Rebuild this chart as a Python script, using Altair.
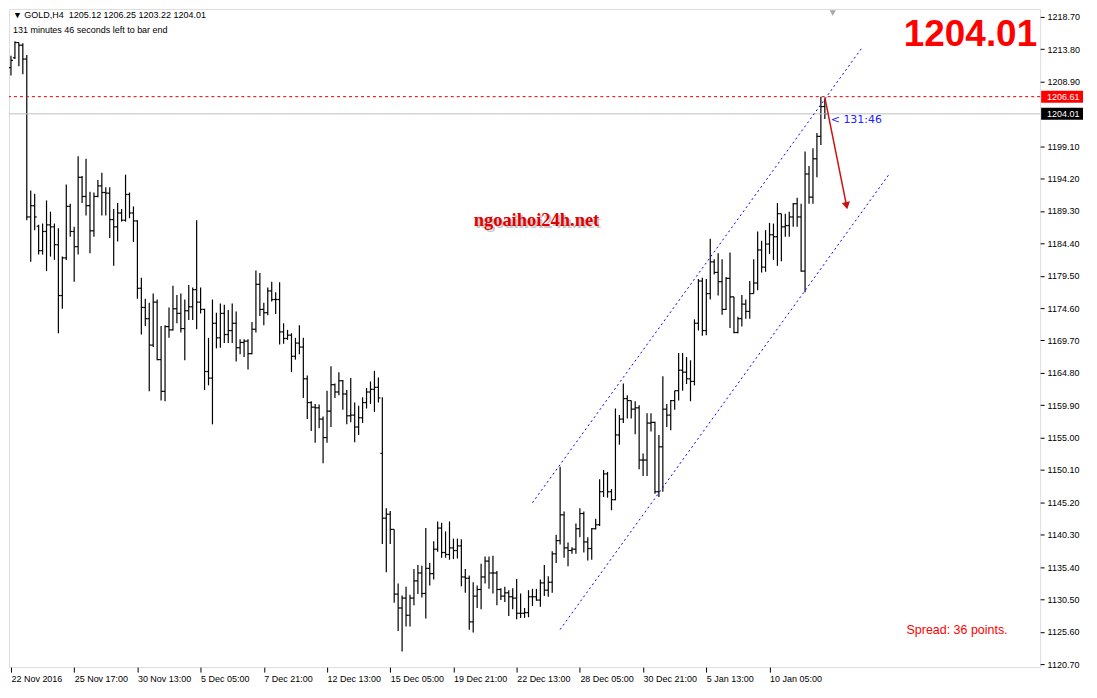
import json
import altair as alt
import pandas as pd

# ---------------- data ----------------
OPEN = [1211.0, 1212.5, 1214.8, 1214.4, 1212.3, 1188.4, 1190.1, 1187.0, 1183.3, 1186.2,
        1187.2, 1186.9, 1184.2, 1176.5, 1182.2, 1190.0, 1186.2, 1183.9, 1194.4, 1191.5,
        1190.1, 1186.3, 1191.5, 1193.1, 1192.1, 1192.0, 1188.0, 1186.9, 1189.0, 1187.9,
        1191.8, 1189.0, 1187.8, 1177.6, 1174.7, 1173.0, 1169.0, 1175.5, 1166.8, 1162.0,
        1171.8, 1171.3, 1174.5, 1173.8, 1171.5, 1174.2, 1174.8, 1177.4, 1175.5, 1174.4,
        1165.0, 1164.0, 1172.3, 1170.1, 1173.8, 1170.6, 1171.2, 1172.3, 1168.6, 1169.4,
        1169.6, 1167.7, 1171.4, 1178.2, 1174.4, 1173.9, 1177.2, 1175.9, 1175.9, 1171.0,
        1170.0, 1170.5, 1167.3, 1169.3, 1168.7, 1163.9, 1160.3, 1159.6, 1159.5, 1157.8,
        1155.0, 1159.0, 1163.0, 1161.9, 1163.6, 1161.6, 1158.3, 1158.4, 1156.6, 1158.0,
        1160.3, 1161.9, 1162.3, 1162.6, 1152.6, 1142.8, 1143.4, 1141.1, 1131.3, 1129.2,
        1130.7, 1128.1, 1130.7, 1133.3, 1134.5, 1131.4, 1135.2, 1134.4, 1138.1, 1141.3,
        1137.6, 1137.3, 1138.3, 1137.9, 1138.6, 1133.9, 1133.7, 1127.1, 1131.0, 1132.0,
        1133.9, 1136.3, 1134.5, 1134.5, 1132.0, 1131.0, 1131.5, 1130.9, 1130.7, 1128.4,
        1128.4, 1128.5, 1130.9, 1130.9, 1130.4, 1133.0, 1131.9, 1133.1, 1137.4, 1139.4,
        1143.3, 1138.3, 1137.9, 1138.1, 1141.2, 1143.5, 1139.2, 1138.2, 1141.2, 1141.8,
        1146.8, 1149.5, 1146.8, 1145.6, 1155.4, 1157.8, 1160.9, 1160.6, 1159.3, 1159.5,
        1151.6, 1151.6, 1157.2, 1157.3, 1146.8, 1153.6, 1159.3, 1158.4, 1160.6, 1162.1,
        1165.2, 1164.9, 1163.9, 1163.5, 1172.3, 1178.7, 1171.2, 1176.8, 1181.6, 1180.0,
        1178.6, 1174.4, 1179.1, 1176.3, 1170.9, 1173.0, 1175.2, 1174.1, 1176.8, 1178.4,
        1183.4, 1180.8, 1184.3, 1185.7, 1185.4, 1188.9, 1186.9, 1187.1, 1188.4, 1190.4,
        1188.4, 1180.2, 1194.9, 1191.4, 1197.2, 1200.6, 1205.12]
HIGH = [1212.8, 1215.0, 1214.8, 1214.7, 1212.9, 1192.4, 1191.9, 1187.2, 1187.4, 1190.9,
        1189.2, 1187.4, 1186.7, 1182.4, 1193.3, 1190.4, 1186.9, 1197.6, 1194.6, 1197.2,
        1192.2, 1192.1, 1194.0, 1195.1, 1192.9, 1192.9, 1189.6, 1190.5, 1189.6, 1194.8,
        1192.1, 1190.0, 1187.9, 1179.2, 1176.0, 1175.4, 1176.8, 1175.9, 1171.9, 1172.0,
        1174.7, 1178.0, 1176.6, 1176.8, 1175.9, 1178.1, 1177.7, 1187.9, 1177.7, 1174.5,
        1170.1, 1175.9, 1173.9, 1175.3, 1175.1, 1174.3, 1175.3, 1174.1, 1169.9, 1169.9,
        1169.9, 1172.5, 1180.3, 1179.9, 1175.4, 1177.7, 1178.6, 1177.0, 1178.5, 1172.3,
        1171.3, 1170.8, 1170.1, 1172.0, 1170.1, 1164.4, 1160.5, 1160.1, 1160.0, 1158.2,
        1162.1, 1165.8, 1163.2, 1164.9, 1163.7, 1162.2, 1164.0, 1160.3, 1159.8, 1161.1,
        1162.5, 1163.5, 1165.1, 1164.1, 1161.1, 1144.3, 1143.9, 1141.1, 1132.9, 1131.1,
        1132.4, 1131.2, 1135.1, 1135.7, 1135.6, 1141.3, 1136.0, 1139.3, 1142.3, 1142.1,
        1140.8, 1142.3, 1139.7, 1139.7, 1139.6, 1135.1, 1134.1, 1133.1, 1132.6, 1135.9,
        1137.0, 1137.0, 1137.1, 1134.8, 1132.2, 1132.4, 1131.9, 1132.2, 1133.6, 1131.4,
        1129.2, 1131.9, 1132.1, 1132.1, 1133.5, 1135.7, 1134.0, 1137.8, 1140.3, 1150.6,
        1143.8, 1139.1, 1138.4, 1142.0, 1144.3, 1143.8, 1139.9, 1141.3, 1142.7, 1148.7,
        1150.1, 1149.8, 1147.2, 1159.4, 1158.4, 1163.2, 1161.4, 1160.6, 1160.5, 1159.9,
        1152.6, 1158.7, 1158.7, 1157.4, 1155.4, 1164.3, 1160.1, 1160.7, 1162.1, 1167.8,
        1167.8, 1167.2, 1166.7, 1172.9, 1179.0, 1179.2, 1179.0, 1185.1, 1182.0, 1182.9,
        1182.0, 1179.3, 1183.0, 1176.3, 1173.3, 1176.6, 1175.9, 1178.7, 1182.0, 1186.2,
        1184.8, 1186.4, 1187.5, 1187.4, 1190.5, 1188.9, 1188.9, 1189.2, 1190.5, 1191.3,
        1190.4, 1198.3, 1196.1, 1198.8, 1201.1, 1206.61, 1206.25]
LOW = [1209.8, 1212.3, 1211.2, 1210.0, 1187.9, 1181.6, 1186.4, 1182.7, 1182.7, 1180.2,
       1182.4, 1181.9, 1170.8, 1174.5, 1181.9, 1185.4, 1178.6, 1182.7, 1190.5, 1188.6,
       1182.9, 1185.4, 1191.4, 1188.6, 1188.6, 1185.2, 1181.0, 1184.7, 1187.7, 1187.7,
       1188.2, 1184.6, 1176.0, 1170.6, 1171.9, 1162.0, 1168.7, 1166.7, 1160.6, 1160.5,
       1170.1, 1171.2, 1172.3, 1170.9, 1166.7, 1172.8, 1172.8, 1171.4, 1173.8, 1162.2,
       1162.9, 1157.0, 1168.5, 1168.6, 1169.3, 1169.3, 1169.3, 1166.5, 1167.6, 1167.2,
       1165.3, 1167.6, 1170.9, 1173.4, 1172.0, 1173.5, 1175.6, 1173.7, 1169.1, 1169.2,
       1169.8, 1164.9, 1166.8, 1167.6, 1161.0, 1157.8, 1156.0, 1154.2, 1156.4, 1151.1,
       1154.2, 1156.6, 1161.0, 1161.4, 1159.2, 1157.0, 1157.3, 1154.3, 1155.4, 1157.2,
       1159.4, 1160.1, 1158.9, 1160.3, 1138.9, 1134.6, 1138.9, 1130.0, 1125.7, 1122.6,
       1126.4, 1126.4, 1129.6, 1131.3, 1130.8, 1127.6, 1132.6, 1133.5, 1137.7, 1136.8,
       1136.8, 1136.5, 1136.6, 1136.7, 1132.5, 1131.5, 1125.9, 1125.5, 1129.2, 1129.0,
       1132.9, 1132.1, 1131.4, 1129.6, 1130.4, 1130.1, 1128.0, 1129.0, 1127.5, 1127.7,
       1127.7, 1127.8, 1129.5, 1130.3, 1129.4, 1131.0, 1130.9, 1131.5, 1136.0, 1138.8,
       1136.8, 1135.5, 1137.4, 1137.4, 1139.9, 1137.6, 1136.4, 1136.5, 1141.1, 1141.6,
       1146.0, 1145.9, 1144.0, 1145.5, 1153.9, 1157.2, 1157.9, 1157.9, 1155.5, 1150.2,
       1149.2, 1149.2, 1155.9, 1146.5, 1146.0, 1146.8, 1156.6, 1156.1, 1159.2, 1160.6,
       1162.1, 1163.1, 1160.5, 1162.9, 1171.2, 1170.4, 1170.5, 1175.9, 1179.7, 1176.5,
       1173.6, 1174.3, 1171.6, 1170.8, 1170.8, 1171.8, 1173.0, 1173.0, 1176.8, 1177.3,
       1180.0, 1180.1, 1182.8, 1181.9, 1181.0, 1181.7, 1185.4, 1185.4, 1186.9, 1186.9,
       1180.1, 1177.0, 1190.4, 1190.4, 1194.4, 1199.3, 1203.22]
CLOSE = [1212.1, 1214.8, 1214.4, 1212.3, 1188.4, 1190.1, 1188.4, 1183.3, 1186.2, 1187.2,
         1186.9, 1184.2, 1176.5, 1182.2, 1190.0, 1186.2, 1183.9, 1194.4, 1191.5, 1190.1,
         1186.3, 1191.5, 1193.1, 1192.1, 1192.0, 1188.0, 1186.9, 1189.0, 1187.9, 1191.8,
         1189.0, 1187.8, 1177.6, 1174.7, 1173.0, 1169.0, 1175.5, 1166.8, 1162.0, 1171.8,
         1171.3, 1174.5, 1173.8, 1171.5, 1174.2, 1174.8, 1177.4, 1175.5, 1174.4, 1165.0,
         1164.0, 1172.3, 1170.1, 1173.8, 1170.6, 1171.2, 1172.3, 1168.6, 1169.4, 1169.6,
         1167.7, 1171.4, 1178.2, 1174.4, 1173.9, 1177.2, 1175.9, 1175.9, 1171.0, 1170.0,
         1170.5, 1167.3, 1169.3, 1168.7, 1163.9, 1160.3, 1159.6, 1159.5, 1157.8, 1155.0,
         1159.0, 1163.0, 1161.9, 1163.6, 1161.6, 1158.3, 1158.4, 1156.6, 1158.0, 1160.3,
         1161.9, 1162.3, 1162.6, 1161.0, 1142.8, 1143.4, 1141.1, 1131.3, 1129.2, 1130.7,
         1128.1, 1130.7, 1133.3, 1134.5, 1131.4, 1135.2, 1134.4, 1138.1, 1141.3, 1137.6,
         1137.3, 1138.3, 1137.9, 1138.6, 1133.9, 1133.7, 1127.1, 1131.0, 1132.0, 1133.9,
         1136.3, 1134.5, 1134.5, 1132.0, 1131.0, 1131.5, 1130.9, 1130.7, 1128.4, 1128.4,
         1128.5, 1130.9, 1130.9, 1130.4, 1133.0, 1131.9, 1133.1, 1137.4, 1139.4, 1143.3,
         1138.3, 1137.9, 1138.1, 1141.2, 1143.5, 1139.2, 1138.2, 1141.2, 1141.8, 1146.8,
         1149.5, 1146.8, 1145.6, 1155.4, 1157.8, 1160.9, 1160.6, 1159.3, 1159.5, 1151.6,
         1151.6, 1157.2, 1157.3, 1146.8, 1153.6, 1159.3, 1158.4, 1160.6, 1162.1, 1165.2,
         1164.9, 1163.9, 1163.5, 1172.3, 1178.7, 1171.2, 1176.8, 1181.6, 1180.0, 1178.6,
         1174.4, 1179.1, 1176.3, 1170.9, 1173.0, 1175.2, 1174.1, 1176.8, 1178.4, 1183.4,
         1180.8, 1184.3, 1185.7, 1185.4, 1188.9, 1186.9, 1187.1, 1188.4, 1190.4, 1188.4,
         1180.2, 1194.9, 1191.4, 1197.2, 1200.6, 1205.1, 1204.01]

DATE_LABELS = ["22 Nov 2016", "25 Nov 17:00", "30 Nov 13:00", "5 Dec 05:00", "7 Dec 21:00",
               "12 Dec 13:00", "15 Dec 05:00", "19 Dec 21:00", "22 Dec 13:00", "28 Dec 05:00",
               "30 Dec 21:00", "5 Jan 13:00", "10 Jan 05:00"]
LABEL_BARS = [0, 16, 32, 48, 64, 80, 96, 112, 128, 144, 160, 176, 192]
PRICE_TICKS = [1218.70, 1213.80, 1208.90, 1199.10, 1194.20, 1189.30, 1184.40, 1179.50,
               1174.60, 1169.70, 1164.80, 1159.90, 1155.00, 1150.10, 1145.20, 1140.30,
               1135.40, 1130.50, 1125.60, 1120.70]

RED_LINE = 1206.61
BID = 1204.01
CHANNEL_NAME = ["upper", "upper", "lower", "lower"]
CHANNEL_BAR = [132, 215.5, 139, 222.5]
CHANNEL_PRICE = [1145.13, 1214.09, 1125.94, 1195.05]
ARROW_BAR = [206, 211.5]
ARROW_PRICE = [1206.5, 1190.1]

HEADER_1 = "\u25BC GOLD,H4\u00a0\u00a01205.12 1206.25 1203.22 1204.01"
HEADER_2 = "131 minutes 46 seconds left to bar end"
BIG_PRICE = "1204.01"
WATERMARK = "ngoaihoi24h.net"
SPREAD = "Spread: 36 points."
TIMER = "< 131:46"

# ---------------- chart ----------------
W, H = 1034, 660
FONT = "Liberation Sans"

bars = pd.DataFrame({"i": list(range(len(OPEN))), "o": OPEN, "h": HIGH, "l": LOW, "c": CLOSE})

xs = alt.Scale(domain=[-0.5, 260.5], nice=False, zero=False)
ys = alt.Scale(domain=[1120.25, 1219.89], nice=False, zero=False)

label_expr = json.dumps(DATE_LABELS) + "[round(datum.value / 16)]"

x_axis = alt.Axis(values=LABEL_BARS, labelExpr=label_expr, labelAlign="left",
                  labelBaseline="top", labelFont=FONT, labelFontSize=9, labelColor="black",
                  tickColor="black", tickSize=5, domain=False, grid=False, title=None,
                  labelPadding=2, labelFlush=False, labelOverlap=False)
y_axis = alt.Axis(orient="right", values=PRICE_TICKS, format=".2f", labelFont=FONT,
                  labelFontSize=9, labelColor="black", tickColor="black", tickSize=4,
                  domain=False, grid=False, title=None, labelPadding=3,
                  labelFlush=False, labelOverlap=False)


def X(field):
    return alt.X(field, scale=xs, axis=x_axis)


def Y(field):
    return alt.Y(field, scale=ys, axis=y_axis)


base = alt.Chart(bars)

hl = base.mark_rule(color="black", strokeWidth=1.2).encode(
    x=X("i:Q"), y=Y("l:Q"), y2="h:Q",
)
open_tick = base.transform_calculate(xa="datum.i - 0.5").mark_rule(
    color="black", strokeWidth=1.2).encode(x=X("xa:Q"), x2="i:Q", y=Y("o:Q"))
close_tick = base.transform_calculate(xb="datum.i + 0.5").mark_rule(
    color="black", strokeWidth=1.2).encode(x=X("i:Q"), x2="xb:Q", y=Y("c:Q"))

red_line = alt.Chart(pd.DataFrame({"p": [RED_LINE]})).mark_rule(
    color="#e00000", strokeWidth=1, strokeDash=[3, 3]).encode(y=Y("p:Q"))
bid_line = alt.Chart(pd.DataFrame({"p": [BID]})).mark_rule(
    color="#c0c0c0", strokeWidth=1).encode(y=Y("p:Q"))

channels = alt.Chart(pd.DataFrame({"name": CHANNEL_NAME, "i": CHANNEL_BAR, "p": CHANNEL_PRICE})
                     ).mark_line(color="#0000ff", strokeWidth=1, strokeDash=[2, 3]).encode(
    x=X("i:Q"), y=Y("p:Q"), detail="name:N",
)

arrow_df = pd.DataFrame({"i": ARROW_BAR, "p": ARROW_PRICE})
arrow_line = alt.Chart(arrow_df).mark_line(color="#cc1111", strokeWidth=1.5).encode(
    x=X("i:Q"), y=Y("p:Q"))
arrow_head = alt.Chart(arrow_df.tail(1)).mark_point(
    shape="triangle-up", filled=True, color="#cc1111", size=70, angle=169, opacity=1).encode(
    x=X("i:Q"), y=Y("p:Q"))

# price label boxes on the right axis
box_df = pd.DataFrame({"p": [RED_LINE, BID], "t": ["1206.61", "1204.01"],
                       "col": ["#ff0000", "#000000"]})
boxes = alt.Chart(box_df).mark_rule(strokeWidth=12).encode(
    y=Y("p:Q"),
    x=alt.value(W + 1), x2=alt.value(W + 43),
    color=alt.Color("col:N", scale=None),
)
box_text = alt.Chart(box_df).mark_text(align="left", baseline="middle", font=FONT,
                                       fontSize=9, color="white").encode(
    y=Y("p:Q"), x=alt.value(W + 7), text="t:N",
)


def label(txt, x, y, **kw):
    return alt.Chart(pd.DataFrame({"t": [txt]})).mark_text(**kw).encode(
        x=alt.value(x), y=alt.value(y), text="t:N")


header1 = label(HEADER_1, 4, 6.5, align="left", baseline="middle", font=FONT,
                fontSize=9, color="black")
header2 = label(HEADER_2, 4, 21.5, align="left", baseline="middle", font=FONT,
                fontSize=9, color="black")
big = label(BIG_PRICE, 1031, 37, align="right", baseline="alphabetic", font=FONT,
            fontSize=37, fontWeight="bold", color="#ff0000")
wm_shadow = label(WATERMARK, 468, 219.5, align="left", baseline="alphabetic",
                  font="Liberation Serif", fontSize=18.5, fontWeight="bold", color="#c8c8c8")
wm = label(WATERMARK, 466, 217.5, align="left", baseline="alphabetic",
           font="Liberation Serif", fontSize=18.5, fontWeight="bold", color="#e00000")
spread = label(SPREAD, 900, 622.5, align="left", baseline="middle", font=FONT,
               fontSize=12.5, color="#ff0000")
timer = label(TIMER, 824, 111, align="left", baseline="middle", font="DejaVu Sans",
              fontSize=11, color="#2222ff")
shift_marker = alt.Chart(pd.DataFrame({"t": [0]})).mark_point(
    shape="triangle-down", filled=True, color="#a8a8a8", size=40, opacity=1).encode(
    x=alt.value(826), y=alt.value(4))

chart = alt.layer(
    hl, open_tick, close_tick, bid_line, red_line, channels, arrow_line, arrow_head,
    boxes, box_text, header1, header2, big, wm_shadow, wm, spread, timer, shift_marker,
).properties(width=W, height=H, padding=0).configure_view(
    stroke="black", strokeWidth=1, fill="white"
).configure(background="white")

chart.save("out.html", embed_options={"renderer": "svg", "actions": False})
